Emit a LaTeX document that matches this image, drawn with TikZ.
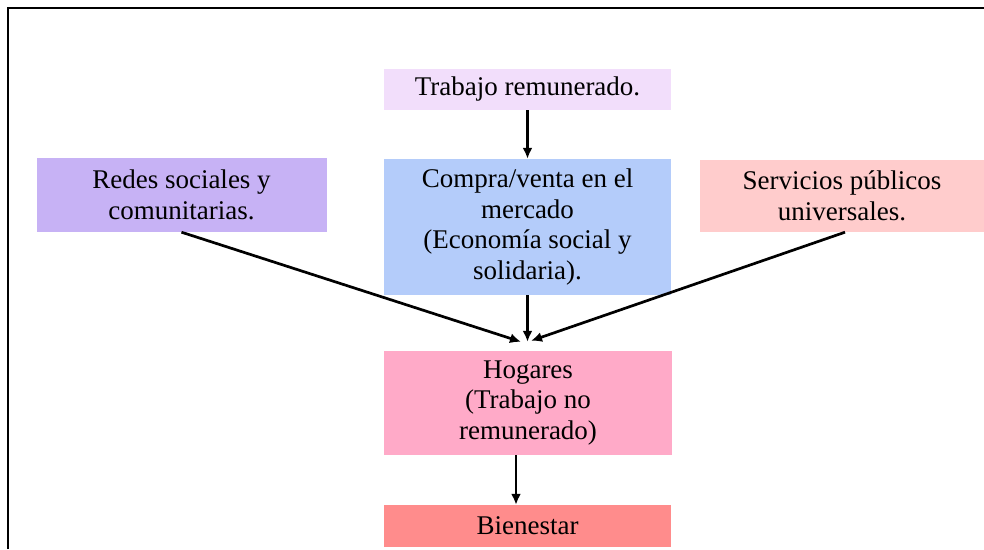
\documentclass[tikz,border=0pt]{standalone}
\usepackage{fontspec}
\setmainfont{Liberation Serif}
\usepackage{tikz}
\usetikzlibrary{calc,arrows.meta}
\definecolor{trabajofill}{RGB}{242,222,251}
\definecolor{redesfill}{RGB}{199,178,245}
\definecolor{comprafill}{RGB}{180,204,250}
\definecolor{serviciosfill}{RGB}{255,204,204}
\definecolor{hogaresfill}{RGB}{255,170,200}
\definecolor{bienestarfill}{RGB}{255,140,140}

\begin{document}
\begin{tikzpicture}[x=1pt,y=-1pt]
       \tikzstyle{box} = [rectangle, inner sep=0pt, align=center, font=\fontsize{27}{30.5}\selectfont];
       \tikzstyle{flow} = [-{Latex[length=11pt,width=10pt]}, line width=2.7pt];
       \useasboundingbox (0,0) rectangle (984,549);
       \draw[line width=2.2pt] (8,549) -- (8,8) -- (984,8);

       \node[box, fill=trabajofill, minimum width=287pt, minimum height=41pt] (trabajo) at (527.5,89.5) {Trabajo remunerado.};
       \node[box, fill=redesfill, minimum width=290pt, minimum height=74pt] (redes) at (181.5,195) {Redes sociales y\\comunitarias.};
       \node[box, fill=comprafill, minimum width=287pt, minimum height=136pt] (compra) at (527.5,227) {Compra/venta en el\\mercado\\(Economía social y\\solidaria).};
       \node[box, fill=serviciosfill, minimum width=284pt, minimum height=72pt] (servicios) at (842,196) {Servicios públicos\\universales.};
       \node[box, fill=hogaresfill, minimum width=288pt, minimum height=104pt] (hogares) at (528,403) {Hogares\\(Trabajo no\\remunerado)};
       \node[box, fill=bienestarfill, minimum width=287pt, minimum height=42pt] (bienestar) at (527.5,526) {Bienestar};

       \draw[flow] ($(trabajo.south)+(0.0,0.0)$) -- ($(compra.north)+(0.0,0.0)$);
       \draw[flow] ($(compra.south)+(0.0,0.0)$) -- ($(hogares.north)+(-0.5,-9.0)$);
       \draw[flow] ($(redes.south)+(0.0,0.0)$) -- ($(hogares.north)+(-7.0,-9.0)$);
       \draw[flow] ($(servicios.south)+(3.0,0.0)$) -- ($(hogares.north)+(3.0,-10.0)$);
       \draw[flow] ($(hogares.south)+(-12.0,0.0)$) -- ($(bienestar.north)+(-11.5,0.0)$);
\end{tikzpicture}
\end{document}
